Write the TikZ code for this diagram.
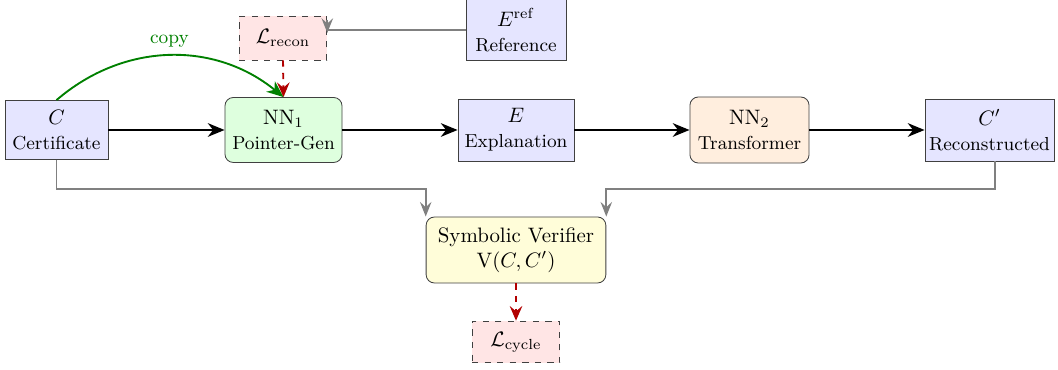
\documentclass[tikz,border=0pt]{standalone}
\usetikzlibrary{arrows.meta}
\begin{document}
\begin{tikzpicture}[x=0.4785pt,y=-0.4785pt,
  base/.style={draw=black!75, align=center, inner sep=2pt, font=\normalsize},
  datab/.style={base, fill=blue!10},
  netb/.style={base, rounded corners=4pt},
  lossb/.style={base, dashed, fill=red!10},
  mainarrow/.style={-{Stealth[length=8pt,width=6.5pt,inset=2.5pt]}, line width=1.1pt, black},
  grayline/.style={line width=0.8pt, black!50},
  grayarrow/.style={-{Stealth[length=7pt,width=5.5pt,inset=2.5pt]}, line width=0.8pt, black!50},
  redarrow/.style={-{Stealth[length=7pt,width=6pt,inset=2.5pt]}, line width=0.9pt, dashed, red!70!black},
  copyarrow/.style={-{Stealth[length=8pt,width=6.5pt,inset=2.5pt]}, line width=0.9pt, green!50!black}]
\useasboundingbox (0,0) rectangle (1058,370);
\node[datab, minimum width=49.3pt, minimum height=28.2pt] (C) at (56.5,130) {$C$\\{\small Certificate}};
\node[netb, fill=green!13, minimum width=56pt, minimum height=31.1pt] (NN1) at (283.5,130) {$\mathrm{NN}_1$\\{\small Pointer-Gen}};
\node[datab, minimum width=55.5pt, minimum height=29.7pt] (E) at (516,130) {$E$\\{\small Explanation}};
\node[netb, fill=orange!13, minimum width=57pt, minimum height=31.6pt] (NN2) at (749.5,130) {$\mathrm{NN}_2$\\{\small Transformer}};
\node[datab, minimum width=60.8pt, minimum height=29.7pt] (Cp) at (989.5,130) {$C'$\\{\small Reconstructed}};
\node[lossb, minimum width=42pt, minimum height=21pt] (Lrec) at (283,38) {$\mathcal{L}_{\mathrm{recon}}$};
\node[datab, minimum width=47.8pt, minimum height=29.2pt] (Eref) at (516,30) {$E^{\mathrm{ref}}$\\{\small Reference}};
\node[netb, fill=yellow!15, minimum width=86pt, minimum height=31.6pt] (V) at (516,250) {Symbolic Verifier\\$\mathrm{V}(C, C')$};
\node[lossb, minimum width=42pt, minimum height=20pt] (Lcyc) at (516,342) {$\mathcal{L}_{\mathrm{cycle}}$};
\draw[mainarrow] (C) -- (NN1);
\draw[mainarrow] (NN1) -- (E);
\draw[mainarrow] (E) -- (NN2);
\draw[mainarrow] (NN2) -- (Cp);
\draw[copyarrow] (C.north) to[bend left=40] node[above, font=\small, text=green!50!black, pos=0.5] {copy} (NN1.north);
\draw[redarrow] (Lrec.south) -- (NN1.north);
\coordinate (rc) at (Eref.west -| Lrec.east);
\draw[grayline] (Eref.west) -- (rc);
\draw[grayarrow] ([yshift=5pt]rc) -- ([yshift=-1.4pt]rc);
\coordinate (cl) at (56.5,189);
\coordinate (cr) at (995,189);
\draw[grayarrow] (C.south) -- (cl) -| (V.north west);
\draw[grayarrow] (Cp.south -| cr) -- (cr) -| (V.north east);
\draw[redarrow] (V.south) -- (Lcyc.north);
\end{tikzpicture}
\end{document}
